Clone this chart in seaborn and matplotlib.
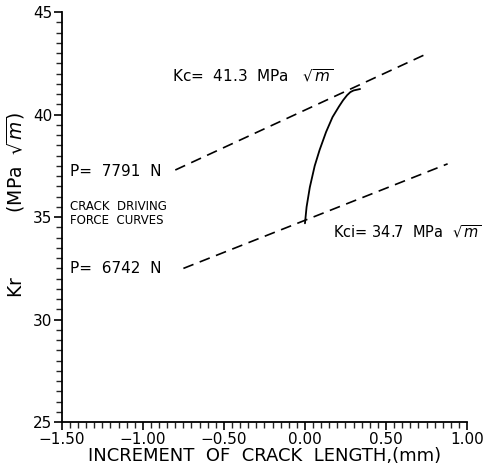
import pandas as pd
import numpy as np
import matplotlib.pyplot as plt
import seaborn as sns
from matplotlib.ticker import MultipleLocator

sns.set_style('ticks')
plt.rcParams['font.family'] = ['DejaVu Sans']
plt.rcParams['text.color'] = 'black'
plt.rcParams['axes.labelcolor'] = 'black'

# crack driving force curves (dashed)
upper_x = [-0.80, 0.76]
upper_y = [37.3, 43.0]
lower_x = [-0.75, 0.88]
lower_y = [32.5, 37.6]

# resistance curve (solid)
r_x = [0.00, 0.01, 0.03, 0.06, 0.09, 0.13, 0.17, 0.21, 0.235, 0.26, 0.28, 0.30, 0.34]
r_y = [34.7, 35.5, 36.46, 37.5, 38.27, 39.15, 39.88, 40.40, 40.70, 40.95, 41.10, 41.18, 41.25]

df_up = pd.DataFrame({'x': upper_x, 'y': upper_y})
df_lo = pd.DataFrame({'x': lower_x, 'y': lower_y})
df_r = pd.DataFrame({'x': r_x, 'y': r_y})

fig = plt.figure(figsize=(4.83, 4.67), dpi=100)
ax = fig.add_axes([0.128, 0.096, 0.839, 0.878])

sns.lineplot(data=df_up, x='x', y='y', ax=ax, color='black', lw=1.2,
             linestyle=(0, (6.5, 4)), sort=False)
sns.lineplot(data=df_lo, x='x', y='y', ax=ax, color='black', lw=1.2,
             linestyle=(0, (6.5, 4)), sort=False)
sns.lineplot(data=df_r, x='x', y='y', ax=ax, color='black', lw=1.3, sort=False)

ax.set_xlim(-1.5, 1.0)
ax.set_ylim(25, 45)
ax.xaxis.set_major_locator(MultipleLocator(0.5))
ax.xaxis.set_minor_locator(MultipleLocator(0.05))
ax.yaxis.set_major_locator(MultipleLocator(5))
ax.yaxis.set_minor_locator(MultipleLocator(0.5))
ax.xaxis.set_major_formatter(plt.FuncFormatter(lambda v, p: f'{v:.2f}'.replace('-', '\u2212')))
ax.tick_params(which='major', length=6, width=1.2, labelsize=11, colors='black', pad=1)
ax.tick_params(which='minor', length=4, width=1)
sns.despine(ax=ax)
for s in ['left', 'bottom']:
    ax.spines[s].set_linewidth(1.3)
    ax.spines[s].set_color('black')

ax.set_xlabel('INCREMENT  OF  CRACK  LENGTH,(mm)', fontsize=13, labelpad=0)
ax.set_ylabel('Kr           (MPa  $\\sqrt{m}$)', fontsize=13.5)
ax.yaxis.set_label_coords(-0.085, 0.53)

ax.text(-0.82, 41.6, 'Kc=  41.3  MPa   $\\sqrt{m}$', fontsize=11)
ax.text(0.17, 34.0, 'Kci= 34.7  MPa  $\\sqrt{m}$', fontsize=10.5)
ax.text(-1.45, 37.0, 'P=  7791  N', fontsize=11)
ax.text(-1.45, 35.35, 'CRACK  DRIVING', fontsize=8.5)
ax.text(-1.45, 34.65, 'FORCE  CURVES', fontsize=8.5)
ax.text(-1.45, 32.3, 'P=  6742  N', fontsize=11)

plt.savefig('out.png', dpi=100)
